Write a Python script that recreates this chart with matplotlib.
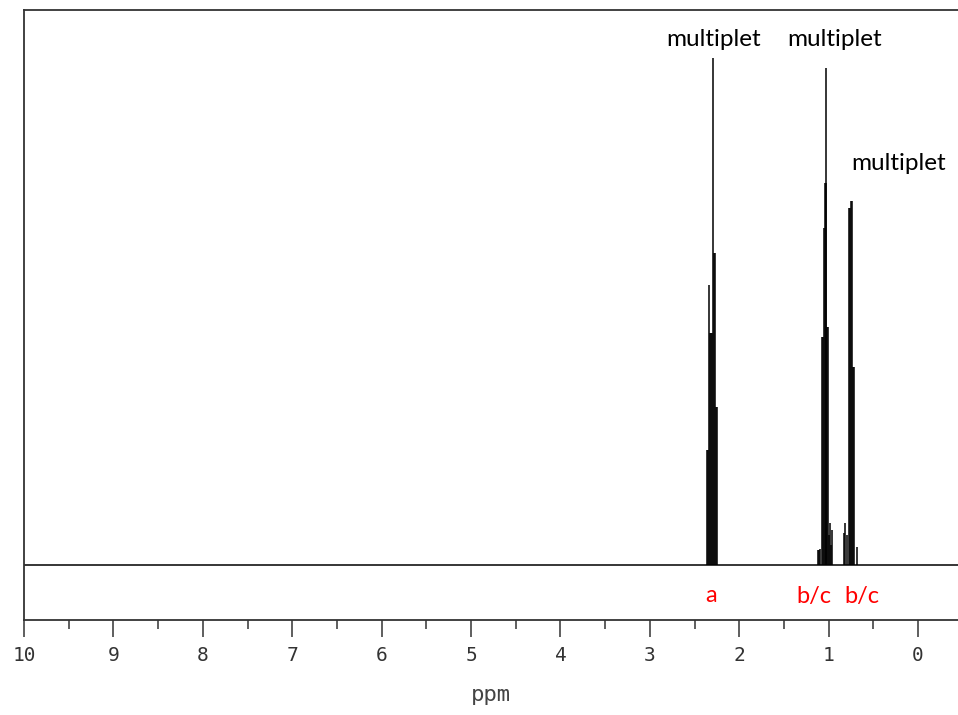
import numpy as np
import matplotlib
matplotlib.use("Agg")
import matplotlib.pyplot as plt

# peak lines: chemical shift (ppm) and height (arbitrary units)
peak_a_ppm = [2.355, 2.344, 2.336, 2.324, 2.313, 2.302, 2.295, 2.286, 2.275, 2.264, 2.253]
peak_a_h = [115, 115, 280, 232, 232, 232, 507, 312, 312, 158, 158]

peak_b_ppm = [1.124, 1.110, 1.093, 1.079, 1.068, 1.056, 1.043, 1.032, 1.027,
              1.016, 1.004, 0.993, 0.981, 0.970, 0.960]
peak_b_h = [15, 15, 16, 228, 228, 337, 382, 382, 497, 238, 238, 30, 42, 20, 35]

peak_c_ppm = [0.833, 0.813, 0.800, 0.770, 0.758, 0.747, 0.736, 0.724, 0.713, 0.679]
peak_c_h = [32, 42, 30, 357, 357, 364, 364, 198, 198, 18]

# annotations
mult_labels = ["multiplet", "multiplet", "multiplet"]
mult_x = [2.29, 0.93, 0.22]
mult_y = [526, 526, 401]
assign_labels = ["a", "b/c", "b/c"]
assign_x = [2.31, 1.17, 0.63]

xticks = list(range(0, 11))
minor_ticks = [v + 0.5 for v in range(0, 10)]

fig = plt.figure(figsize=(9.58, 7.15), dpi=100)
ax = fig.add_axes([24 / 958, 1 - 620 / 715, 1 - 24 / 958, 610 / 715])

ax.axhline(0, color="black", lw=1.1)
for ppm, h in [(peak_a_ppm, peak_a_h), (peak_b_ppm, peak_b_h), (peak_c_ppm, peak_c_h)]:
    ax.vlines(ppm, 0, h, color="black", lw=1.1)

ax.set_xlim(10, -0.447)
ax.set_ylim(-55, 555)

for t, x, y in zip(mult_labels, mult_x, mult_y):
    ax.text(x, y, t, ha="center", va="center", fontsize=17.5, family="Lato", color="black")
for t, x in zip(assign_labels, assign_x):
    ax.text(x, -31, t, ha="center", va="center", fontsize=17, family="Lato", color="#ff0000")

ax.set_xticks(xticks)
ax.set_xticks(minor_ticks, minor=True)
ax.set_xticklabels([str(v) for v in xticks], family="DejaVu Sans Mono", fontsize=14, color="#333333")
ax.set_yticks([])
ax.tick_params(axis="x", which="major", direction="out", length=12, width=1.1, color="#333333", pad=7)
ax.tick_params(axis="x", which="minor", direction="out", length=6.5, width=1.1, color="#333333")

for s in ["left", "top", "bottom"]:
    ax.spines[s].set_color("#333333")
    ax.spines[s].set_linewidth(1.3)
ax.spines["right"].set_visible(False)

ax.set_xlabel("ppm", family="DejaVu Sans Mono", fontsize=16, color="#444444")
ax.xaxis.set_label_coords(0.5, -0.123)
ax.xaxis.label.set_va("center")

fig.savefig("out.png", dpi=100)
